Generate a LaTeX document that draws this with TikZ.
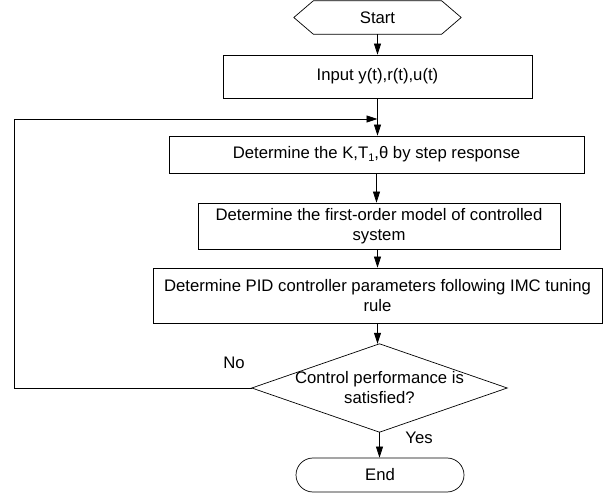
\documentclass[tikz,border=0pt]{standalone}
\usepackage{fontspec}
\setmainfont{Liberation Sans}
\usetikzlibrary{arrows.meta}
\tikzset{
  txt/.style={font=\fontsize{16.7}{20}\selectfont, align=center, inner sep=0pt},
  box/.style={txt, draw, line width=0.7pt},
  arr/.style={line width=0.7pt, -{Triangle[length=11pt,width=7pt]}},
  ln/.style={line width=0.7pt}
}
\begin{document}
\begin{tikzpicture}[x=1pt,y=-1pt]
\useasboundingbox (0,0) rectangle (611,494);
% start hexagon
\node[txt, minimum width=128pt, minimum height=33pt] (start) at (377.5,17.5) {Start};
\draw[ln] (start.north west) -- (start.north east) -- ([xshift=19.5pt]start.east) -- (start.south east) -- (start.south west) -- ([xshift=-19.5pt]start.west) -- cycle;
\node[box, minimum width=309pt, minimum height=43pt] (input) at (377.5,76.5) {Input y(t),r(t),u(t)};
\node[box, minimum width=415pt, minimum height=37pt] (step) at (376.5,154.5) {Determine the K,T\raisebox{-0.3ex}{\fontsize{11}{11}\selectfont 1},θ by step response};
\node[box, minimum width=362pt, minimum height=46pt] (model) at (379,226) {Determine the first-order model of controlled\\system};
\node[box, minimum width=449pt, minimum height=55pt] (pid) at (377.5,295.5) {Determine PID controller parameters following IMC tuning\\rule};
\node[txt, minimum width=255pt, minimum height=88pt] (dec) at (379.5,388) {Control performance is\\satisfied?};
\draw[ln] (dec.north) -- (dec.east) -- (dec.south) -- (dec.west) -- cycle;
\node[box, minimum width=168pt, minimum height=34pt, rounded corners=17pt] (endn) at (380,475) {End};
\node[txt] (no) at (234,363) {No};
\node[txt] (yes) at (419,438) {Yes};
% connectors
\coordinate (join) at (377.5,119);
\coordinate (lc) at (14,119);
\draw[arr] (start.south) -- (start.south |- input.north);
\draw[arr] (input.south) -- (input.south |- step.north);
\draw[arr] (step.south) -- (step.south |- model.north);
\draw[arr] (pid.south |- model.south) -- (pid.south |- pid.north);
\draw[arr] (pid.south) -- (pid.south |- dec.north);
\draw[arr] (dec.south) -- (dec.south |- endn.north);
\draw[arr] (dec.west) -| (lc) -- (join);
\end{tikzpicture}
\end{document}
